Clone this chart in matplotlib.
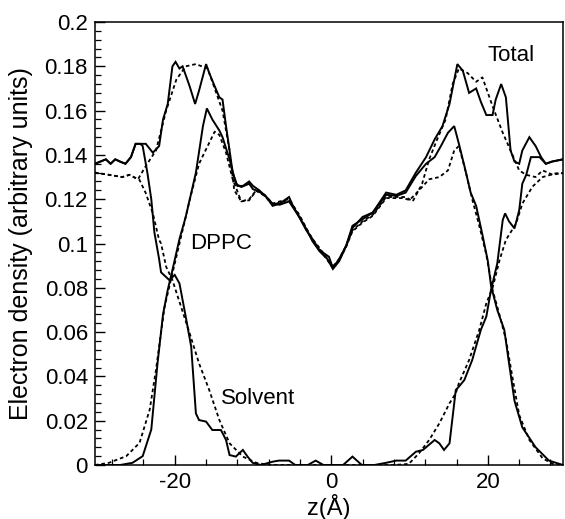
import matplotlib
matplotlib.use("Agg")
import matplotlib.pyplot as plt
from matplotlib.ticker import MultipleLocator, FormatStrFormatter

plt.rcParams['font.family'] = ['Liberation Sans', 'DejaVu Sans']
plt.rcParams['axes.unicode_minus'] = False

# === Data ===
# Total density
tot_z = [-30.2, -29.5, -28.8, -28.2, -27.6, -27.0, -26.3, -25.6, -25.0, -24.4,
         -23.7, -22.8, -22.0, -21.5, -20.9, -20.3, -19.9, -19.4, -19.0, -18.1,
         -17.4, -16.9, -16.0, -15.6, -14.9, -14.3, -13.9, -13.45, -13.0, -12.6,
         -12.0, -11.3, -10.5, -10.0, -9.2, -8.3, -7.5, -6.6, -5.4, -4.9,
         -4.1, -3.2, -2.4, -1.5, -0.3, 0.2, 1.0, 1.9, 2.7, 4.0,
         5.3, 7.0, 8.3, 9.5, 10.8, 12.1, 13.2, 14.2, 15.1, 16.1,
         16.8, 17.6, 18.5, 19.1, 19.8, 20.6, 21.0, 21.7, 22.3, 22.9,
         23.4, 24.0, 24.4, 25.3, 26.1, 26.8, 27.4, 28.2, 29.6]
tot_solid = [0.136, 0.137, 0.138, 0.136, 0.138, 0.137, 0.136, 0.139, 0.145, 0.145,
             0.145, 0.141, 0.144, 0.156, 0.163, 0.180, 0.182, 0.179, 0.180, 0.171,
             0.163, 0.169, 0.181, 0.177, 0.171, 0.166, 0.165, 0.153, 0.142, 0.132,
             0.126, 0.126, 0.128, 0.126, 0.124, 0.121, 0.117, 0.118, 0.121, 0.117,
             0.112, 0.106, 0.102, 0.097, 0.094, 0.089, 0.093, 0.099, 0.108, 0.111,
             0.114, 0.123, 0.122, 0.124, 0.132, 0.139, 0.147, 0.153, 0.163, 0.181,
             0.178, 0.168, 0.170, 0.164, 0.158, 0.158, 0.165, 0.172, 0.166, 0.142,
             0.137, 0.136, 0.142, 0.148, 0.144, 0.139, 0.136, 0.137, 0.138]

totd_z = [-30.2, -28.4, -26.7, -25.8, -24.7, -23.7, -22.4, -21.1, -19.8, -18.6,
          -17.3, -15.8, -14.7, -13.9, -13.0, -12.4, -11.5, -10.5, -9.6, -8.5,
          -7.5, -6.6, -5.4, -4.1, -3.2, -2.4, -1.5, -0.3, 0.3, 1.0,
          1.9, 2.7, 4.0, 5.3, 7.0, 8.3, 9.5, 10.4, 11.6, 12.5,
          13.4, 14.6, 15.5, 16.3, 17.4, 18.5, 19.3, 20.6, 21.9, 22.9,
          24.0, 24.9, 26.1, 27.0, 28.3, 29.6]
tot_dash = [0.132, 0.131, 0.130, 0.131, 0.129, 0.135, 0.142, 0.160, 0.174, 0.180,
            0.181, 0.179, 0.168, 0.160, 0.142, 0.124, 0.119, 0.120, 0.124, 0.122,
            0.118, 0.119, 0.120, 0.113, 0.107, 0.102, 0.098, 0.092, 0.090, 0.093,
            0.099, 0.106, 0.110, 0.113, 0.121, 0.121, 0.121, 0.119, 0.127, 0.138,
            0.146, 0.156, 0.172, 0.179, 0.177, 0.173, 0.175, 0.162, 0.150, 0.142,
            0.133, 0.131, 0.130, 0.133, 0.131, 0.132]

# DPPC density
dp_z = [-30.2, -27.0, -25.4, -24.1, -23.0, -22.2, -21.5, -20.9, -20.3, -19.4,
        -18.6, -17.3, -16.4, -15.9, -15.2, -14.3, -13.9, -13.0, -12.2, -11.5,
        -10.5, -10.0, -9.2, -8.3, -7.5, -6.6, -5.4, -4.1, -3.2, -2.4,
        -1.5, -0.5, 0.2, 1.0, 1.9, 2.7, 4.0, 5.3, 7.0, 8.3,
        9.5, 10.8, 12.1, 13.2, 14.0, 14.9, 15.7, 16.3, 17.0, 17.8,
        18.5, 19.3, 20.0, 20.4, 21.2, 22.1, 22.7, 23.4, 24.4, 26.1,
        27.8, 28.7, 29.6]
dppc_solid = [0.0, 0.0, 0.001, 0.004, 0.016, 0.046, 0.068, 0.079, 0.088, 0.102,
              0.112, 0.132, 0.153, 0.161, 0.156, 0.151, 0.148, 0.138, 0.127, 0.1255,
              0.127, 0.1245, 0.1235, 0.121, 0.118, 0.1175, 0.119, 0.112, 0.1065, 0.101,
              0.0965, 0.093, 0.0885, 0.092, 0.099, 0.107, 0.112, 0.114, 0.122, 0.1215,
              0.123, 0.1305, 0.136, 0.139, 0.144, 0.150, 0.153, 0.145, 0.135, 0.123,
              0.117, 0.104, 0.092, 0.081, 0.070, 0.061, 0.046, 0.029, 0.017, 0.008,
              0.002, 0.001, 0.0]

dpd_z = [-30.2, -28.4, -26.2, -24.5, -23.2, -22.4, -21.3, -20.5, -19.6, -18.1,
         -16.9, -15.8, -14.9, -14.3, -13.45, -12.6, -11.5, -10.5, -9.6, -8.5,
         -7.5, -6.6, -5.4, -4.1, -3.2, -2.4, -1.5, -0.3, 0.3, 1.0,
         1.9, 2.7, 4.0, 5.3, 7.0, 8.3, 9.2, 10.0, 11.2, 12.5,
         13.8, 14.9, 15.7, 16.3, 17.2, 18.0, 18.9, 19.8, 20.6, 21.5,
         22.3, 23.2, 24.0, 25.3, 27.0, 28.3, 29.6]
dppc_dash = [0.0, 0.001, 0.004, 0.010, 0.025, 0.043, 0.0715, 0.0835, 0.097, 0.1196,
             0.136, 0.144, 0.1505, 0.149, 0.141, 0.129, 0.119, 0.1195, 0.1238, 0.1215,
             0.1175, 0.1185, 0.1195, 0.1125, 0.1065, 0.1015, 0.0975, 0.0915, 0.0895, 0.0925,
             0.0985, 0.1055, 0.1095, 0.1125, 0.1205, 0.1205, 0.1205, 0.1196, 0.124, 0.129,
             0.130, 0.133, 0.142, 0.144, 0.132, 0.120, 0.108, 0.095, 0.079, 0.0676,
             0.0567, 0.0384, 0.0226, 0.0113, 0.003, 0.0005, 0.0]

# Solvent density
sol_z = [-30.2, -29.5, -28.8, -28.2, -27.6, -27.0, -26.3, -25.6, -25.0, -24.4,
         -24.1, -23.5, -23.0, -22.6, -22.0, -21.75, -20.7, -20.0, -19.4, -18.6,
         -17.9, -17.3, -16.9, -16.0, -15.2, -14.1, -13.45, -13.0, -12.2, -11.3,
         -10.7, -10.05, -9.0, -7.5, -6.7, -5.4, -4.6, -3.0, -2.0, -1.0,
         0.0, 1.5, 2.7, 3.9, 5.5, 7.0, 8.3, 9.5, 10.8, 11.7,
         13.2, 13.8, 14.4, 15.1, 15.9, 16.3, 17.0, 18.0, 19.1, 19.8,
         20.4, 21.2, 21.9, 22.2, 22.7, 23.4, 24.0, 24.4, 24.9, 25.5,
         26.6, 27.4, 28.2, 29.6]
solv_solid = [0.136, 0.137, 0.138, 0.136, 0.138, 0.137, 0.136, 0.139, 0.145, 0.145,
              0.144, 0.132, 0.120, 0.105, 0.093, 0.087, 0.0835, 0.0858, 0.082, 0.067,
              0.0534, 0.0233, 0.0203, 0.0196, 0.0158, 0.0158, 0.0113, 0.0045, 0.0038, 0.0068,
              0.0038, 0.001, 0.0, 0.0015, 0.002, 0.002, 0.0, 0.0, 0.002, 0.0,
              0.0, 0.0, 0.0038, 0.0, 0.0, 0.001, 0.002, 0.002, 0.006, 0.0068,
              0.0113, 0.0098, 0.0068, 0.0098, 0.0339, 0.0354, 0.0384, 0.0474, 0.061, 0.067,
              0.079, 0.091, 0.1106, 0.1136, 0.110, 0.1068, 0.115, 0.127, 0.131, 0.139,
              0.139, 0.136, 0.137, 0.138]

sold_z = [-30.2, -28.4, -26.7, -25.8, -24.5, -23.7, -22.8, -22.0, -21.75, -21.1,
          -20.3, -19.2, -18.1, -16.9, -15.6, -14.3, -13.0, -11.3, -9.6, -8.0,
          8.0, 9.9, 11.2, 12.5, 13.8, 15.1, 15.9, 16.3, 17.6, 18.9,
          19.8, 20.6, 21.5, 22.3, 23.6, 24.4, 25.7, 27.0, 28.7, 29.6]
solv_dash = [0.132, 0.131, 0.130, 0.131, 0.1287, 0.1227, 0.1136, 0.1016, 0.100, 0.0895,
             0.0835, 0.0715, 0.0595, 0.0459, 0.0339, 0.0203, 0.0098, 0.0038, 0.001, 0.0,
             0.0, 0.0005, 0.0053, 0.0113, 0.0188, 0.0279, 0.0324, 0.0369, 0.0474, 0.061,
             0.073, 0.080, 0.0926, 0.1016, 0.109, 0.118, 0.1257, 0.130, 0.1317, 0.1317]

# === Plotting ===
fig = plt.figure(figsize=(5.65, 5.19), dpi=100)
ax = fig.add_axes([0.168, 0.104, 0.8285, 0.8536])

solid_kw = dict(color='black', linewidth=1.4, solid_joinstyle='miter')
dash_kw = dict(color='black', linewidth=1.3, dashes=(2.0, 1.6))

ax.plot(tot_z, tot_solid, **solid_kw)
ax.plot(totd_z, tot_dash, **dash_kw)
ax.plot(dp_z, dppc_solid, **solid_kw)
ax.plot(dpd_z, dppc_dash, **dash_kw)
ax.plot(sol_z, solv_solid, **solid_kw)
ax.plot(sold_z, solv_dash, **dash_kw)

ax.text(19.9, 0.1847, "Total", fontsize=16, ha='left', va='center')
ax.text(-18.1, 0.100, "DPPC", fontsize=16, ha='left', va='center')
ax.text(-14.1, 0.030, "Solvent", fontsize=16, ha='left', va='center')

ax.set_xlim(-30.2, 29.6)
ax.set_ylim(0, 0.2)
ax.xaxis.set_major_locator(MultipleLocator(20))
ax.xaxis.set_minor_locator(MultipleLocator(4))
ax.yaxis.set_major_locator(MultipleLocator(0.02))
ax.yaxis.set_minor_locator(MultipleLocator(0.004))
ax.yaxis.set_major_formatter(FormatStrFormatter('%g'))
ax.xaxis.set_major_formatter(FormatStrFormatter('%g'))

ax.tick_params(which='both', direction='in', top=False, right=False, labelsize=16, pad=5)
ax.tick_params(which='major', length=7, width=1.0)
ax.tick_params(which='minor', length=4, width=0.9)
for sp in ax.spines.values():
    sp.set_linewidth(1.1)

ax.set_xlabel("z(Å)", fontsize=17, labelpad=1)
ax.set_ylabel("Electron density (arbitrary units)", fontsize=18)
ax.yaxis.set_label_coords(-0.132, 0.5)

fig.savefig("out.png", dpi=100)
